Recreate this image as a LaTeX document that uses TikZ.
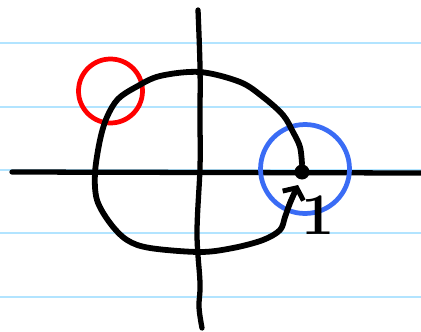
\documentclass[tikz,border=0pt]{standalone}
\usepackage{tikz}
\usetikzlibrary{arrows.meta}

\begin{document}
\begin{tikzpicture}[
        x=0.02cm, y=-0.02cm,
        rule/.style={draw=blue!35!cyan!30, line width=1.1pt},
        axis/.style={draw=black, line width=3pt, line cap=round},
        stroke/.style={draw=black, line width=3.3pt, line cap=round, line join=round},
        ring/.style={circle, line width=2.7pt, inner sep=0pt},
        dotnode/.style={circle, fill=black, minimum size=0.3cm, inner sep=0pt},
        >={Straight Barb[length=5pt, width=13pt, line width=2.8pt]}
    ]
        \useasboundingbox (0,0) rectangle (421,331);

        % notebook rules
        \foreach \y in {43, 107, 170, 233, 297}
            \draw[rule] (0,\y) -- (421,\y);

        % axes
        \coordinate (xl) at (12,172);
        \coordinate (xr) at (421,173);
        \draw[axis] (xl) -- (xr);
        \draw[axis] plot[smooth, tension=0.6] coordinates
            {(198,10) (200,67) (200,120) (200,167) (197,233) (200,283) (199,307) (202,328)};

        % point and rings
        \node[dotnode] (pt) at (302,172) {};
        \node[ring, draw=red, minimum size=1.28cm] (redring) at (110.5,91) {};
        \node[ring, draw={rgb,255:red,58;green,108;blue,245}, minimum size=1.78cm] (bluering) at (305,169) {};

        % closed path back to the point
        \coordinate (tip) at (298,185);
        \draw[stroke, ->] plot[smooth, tension=0.55] coordinates
            {(pt.north) (300,147) (293,132) (283,115) (263,97) (240,82) (200,72)
             (160,76) (136,87) (118,99) (107,117) (100,140) (95,173)
             (97,200) (110,223) (127,240) (150,248) (200,252) (233,248) (263,240)
             (280,230) (285,217) (290,203) (tip)};

        \node[font=\Huge\bfseries, scale=1.35, inner sep=0pt] (one) at (318,215) {1};
    \end{tikzpicture}
\end{document}
